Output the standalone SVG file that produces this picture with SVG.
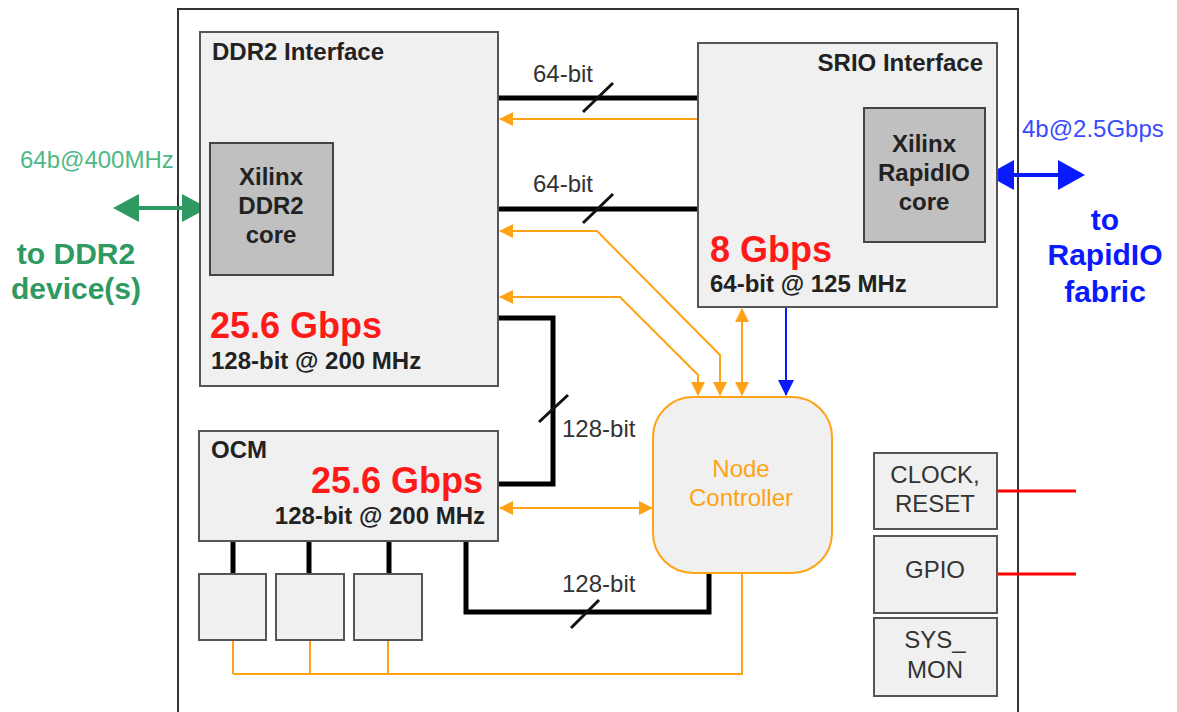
<svg xmlns="http://www.w3.org/2000/svg" width="1177" height="712" viewBox="0 0 1177 712">
<style>
text{font-family:"Liberation Sans",Arial,sans-serif}
.box{fill:#f0f0f0;stroke:#555;stroke-width:2}
.core{fill:#c0c0c0;stroke:#444;stroke-width:2}
.t{font-size:24px;font-weight:bold;fill:#222}
.big{font-size:36px;font-weight:bold;fill:#ff1a1a}
.core-t{font-size:24px;font-weight:bold;fill:#222;text-anchor:middle}
.lbl{font-size:24px;fill:#333}
.sm{font-size:24px;fill:#333;text-anchor:middle}
.bus{fill:none;stroke:#000;stroke-width:5}
.slash{stroke:#111;stroke-width:3}
.or{fill:none;stroke:#ffa216;stroke-width:2}
.red{stroke:#ff0000;stroke-width:3}
</style>
<defs>
<marker id="oa" viewBox="0 0 14 14" refX="13" refY="7" markerWidth="14" markerHeight="14" markerUnits="userSpaceOnUse" orient="auto-start-reverse"><path d="M0,0 L14,7 L0,14 z" fill="#ffa216"/></marker>
<marker id="ba" viewBox="0 0 16 16" refX="15" refY="8" markerWidth="16" markerHeight="16" markerUnits="userSpaceOnUse" orient="auto-start-reverse"><path d="M0,0 L16,8 L0,16 z" fill="#0a1aff"/></marker>
<marker id="bbig" viewBox="0 0 27 30" refX="20" refY="15" markerWidth="27" markerHeight="30" markerUnits="userSpaceOnUse" orient="auto-start-reverse"><path d="M0,0 L27,15 L0,30 z" fill="#0a1aff"/></marker>
<marker id="gbig" viewBox="0 0 26 28" refX="19" refY="14" markerWidth="26" markerHeight="28" markerUnits="userSpaceOnUse" orient="auto-start-reverse"><path d="M0,0 L26,14 L0,28 z" fill="#2e9a62"/></marker>
</defs>
<rect width="1177" height="712" fill="#fff"/>
<rect id="frame" x="178" y="9" width="840" height="720" fill="none" stroke="#333" stroke-width="2"/>

<g id="connectors">
<line class="bus" x1="498" y1="98" x2="698" y2="98"/>
<line class="slash" x1="583" y1="112" x2="613" y2="83"/>
<line class="or" x1="698" y1="119" x2="500" y2="119" marker-end="url(#oa)"/>
<line class="bus" x1="498" y1="209" x2="698" y2="209"/>
<line class="slash" x1="583" y1="223" x2="613" y2="194"/>
<polyline class="or" points="500,231 597,231 720,355 720,395" marker-start="url(#oa)" marker-end="url(#oa)"/>
<polyline class="or" points="500,297 620,297 698,375 698,395" marker-start="url(#oa)" marker-end="url(#oa)"/>
<line class="or" x1="742" y1="309" x2="742" y2="395" marker-start="url(#oa)" marker-end="url(#oa)"/>
<line x1="786" y1="308" x2="786" y2="395" stroke="#0a1aff" stroke-width="2" marker-end="url(#ba)"/>
<polyline class="bus" points="498,318 553,318 553,484 498,484"/>
<line class="slash" x1="539" y1="422" x2="568" y2="395"/>
<line class="or" x1="500" y1="508" x2="652" y2="508" marker-start="url(#oa)" marker-end="url(#oa)"/>
<line class="bus" x1="233" y1="541" x2="233" y2="575"/>
<line class="bus" x1="309" y1="541" x2="309" y2="575"/>
<line class="bus" x1="389" y1="541" x2="389" y2="575"/>
<line class="or" x1="233" y1="640" x2="233" y2="674"/>
<line class="or" x1="310" y1="640" x2="310" y2="674"/>
<line class="or" x1="388" y1="640" x2="388" y2="674"/>
<polyline class="or" points="233,674 742,674 742,573"/>
<polyline class="bus" points="466,541 466,612 709,612 709,573"/>
<line class="slash" x1="571" y1="628" x2="599" y2="600"/>
<line class="red" x1="997" y1="491" x2="1076" y2="491"/>
<line class="red" x1="997" y1="574" x2="1076" y2="574"/>
<line x1="120" y1="208" x2="201" y2="208" stroke="#2e9a62" stroke-width="4" marker-start="url(#gbig)" marker-end="url(#gbig)"/>
<line x1="994" y1="175" x2="1078" y2="175" stroke="#0a1aff" stroke-width="4" marker-start="url(#bbig)" marker-end="url(#bbig)"/>
<text class="lbl" x="533" y="82">64-bit</text>
<text class="lbl" x="533" y="192">64-bit</text>
<text class="lbl" x="562" y="437">128-bit</text>
<text class="lbl" x="562" y="592">128-bit</text>
</g>

<g id="ddr2">
<rect class="box" x="200" y="32" width="298" height="354"/>
<text class="t" x="212" y="60">DDR2 Interface</text>
<text class="big" x="210" y="338">25.6 Gbps</text>
<text class="t" x="211" y="369">128-bit @ 200 MHz</text>
</g>
<g id="ddr2-core">
<rect class="core" x="210" y="143" width="123" height="132"/>
<text class="core-t" x="271" y="185">Xilinx</text>
<text class="core-t" x="271" y="214">DDR2</text>
<text class="core-t" x="271" y="243">core</text>
</g>

<g id="srio">
<rect class="box" x="698" y="43" width="299" height="264"/>
<text class="t" x="983" y="71" text-anchor="end">SRIO Interface</text>
<text class="big" x="710" y="262">8 Gbps</text>
<text class="t" x="710" y="292">64-bit @ 125 MHz</text>
</g>
<g id="srio-core">
<rect class="core" x="864" y="108" width="121" height="134"/>
<text class="core-t" x="924" y="152">Xilinx</text>
<text class="core-t" x="924" y="181">RapidIO</text>
<text class="core-t" x="924" y="210">core</text>
</g>

<g id="ocm">
<rect class="box" x="199" y="431" width="299" height="110"/>
<text class="t" x="211" y="458">OCM</text>
<text class="big" x="483" y="493" text-anchor="end">25.6 Gbps</text>
<text class="t" x="485" y="524" text-anchor="end">128-bit @ 200 MHz</text>
</g>
<g id="mem1"><rect class="box" x="199" y="574" width="67" height="66"/></g>
<g id="mem2"><rect class="box" x="276" y="574" width="68" height="66"/></g>
<g id="mem3"><rect class="box" x="354" y="574" width="68" height="66"/></g>

<g id="node-controller">
<rect x="653" y="397" width="179" height="176" rx="40" ry="40" fill="#f0f0f0" stroke="#ffa216" stroke-width="2"/>
<text x="741" y="477" font-size="24" fill="#ffa216" text-anchor="middle">Node</text>
<text x="741" y="506" font-size="24" fill="#ffa216" text-anchor="middle">Controller</text>
</g>

<g id="clock-reset">
<rect class="box" x="874" y="453" width="123" height="76"/>
<text class="sm" x="935" y="483">CLOCK,</text>
<text class="sm" x="935" y="512">RESET</text>
</g>
<g id="gpio">
<rect class="box" x="874" y="536" width="123" height="77"/>
<text class="sm" x="935" y="578">GPIO</text>
</g>
<g id="sysmon">
<rect class="box" x="874" y="618" width="123" height="78"/>
<text class="sm" x="935" y="648">SYS_</text>
<text class="sm" x="935" y="678">MON</text>
</g>

<g id="ddr2-device">
<text x="20" y="168" font-size="24" fill="#4fb887">64b@400MHz</text>
<text x="76" y="264" font-size="30" font-weight="bold" fill="#2e9a62" text-anchor="middle">to DDR2</text>
<text x="76" y="299" font-size="30" font-weight="bold" fill="#2e9a62" text-anchor="middle">device(s)</text>
</g>
<g id="rapidio-fabric">
<text x="1022" y="137" font-size="24" fill="#3a4bff">4b@2.5Gbps</text>
<text x="1105" y="230" font-size="30" font-weight="bold" fill="#0a1aff" text-anchor="middle">to</text>
<text x="1105" y="265" font-size="30" font-weight="bold" fill="#0a1aff" text-anchor="middle">RapidIO</text>
<text x="1105" y="302" font-size="30" font-weight="bold" fill="#0a1aff" text-anchor="middle">fabric</text>
</g>
</svg>
